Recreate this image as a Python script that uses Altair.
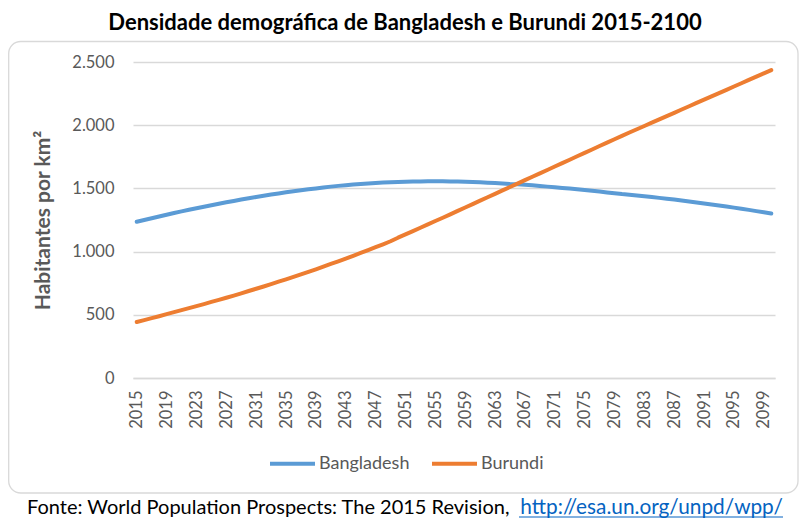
import altair as alt
import pandas as pd

years = list(range(2015, 2101))

bangladesh = [
    1236, 1250, 1264, 1278, 1292, 1305, 1318, 1331, 1343, 1355,
    1367, 1379, 1390, 1401, 1412, 1422, 1432, 1442, 1451, 1460,
    1469, 1477, 1485, 1493, 1500, 1507, 1514, 1520, 1525, 1530,
    1535, 1539, 1543, 1546, 1549, 1551, 1553, 1554, 1555, 1556,
    1556, 1556, 1555, 1554, 1552, 1550, 1548, 1545, 1542, 1538,
    1534, 1532, 1528, 1524, 1519, 1514, 1509, 1504, 1499, 1493,
    1487, 1481, 1475, 1468, 1462, 1455, 1450, 1444, 1438, 1432,
    1425, 1419, 1412, 1404, 1397, 1389, 1381, 1373, 1365, 1357,
    1348, 1339, 1330, 1320, 1311, 1301,
]

burundi = [
    443, 458, 474, 489, 505, 521, 537, 553, 569, 585,
    602, 618, 635, 652, 670, 688, 706, 724, 743, 762,
    781, 800, 820, 840, 860, 881, 902, 923, 945, 967,
    989, 1012, 1035, 1058, 1082, 1110, 1136, 1162, 1189, 1215,
    1242, 1268, 1295, 1322, 1349, 1376, 1403, 1430, 1457, 1484,
    1511, 1538, 1565, 1592, 1619, 1646, 1673, 1700, 1727, 1754,
    1781, 1808, 1835, 1862, 1889, 1915, 1942, 1968, 1994, 2020,
    2046, 2072, 2098, 2124, 2150, 2176, 2202, 2228, 2254, 2280,
    2306, 2332, 2358, 2384, 2410, 2436,
]

series_names = ["Bangladesh", "Burundi"]
series_colors = ["#5B9BD5", "#ED7D31"]
x_tick_years = list(range(2015, 2100, 4))
y_ticks = [0, 500, 1000, 1500, 2000, 2500]

title_text = "Densidade demográfica de Bangladesh e Burundi 2015-2100"
y_title = "Habitantes por km²"
source_text = ["Fonte: World Population Prospects: The 2015 Revision,"]
link_text = ["http://esa.un.org/unpd/wpp/"]

FONT = "Lato"
GRAY = "#595959"

df = pd.DataFrame({
    "Ano": years * 2,
    "Densidade": bangladesh + burundi,
    "Pais": [series_names[0]] * len(years) + [series_names[1]] * len(years),
})

W, H = 642, 316

border = alt.Chart(pd.DataFrame({"k": [0]})).mark_rect(
    cornerRadius=12, fill="white", fillOpacity=0, stroke="#d9d9d9", strokeWidth=1.3
).encode(
    x=alt.value(-124.3), x2=alt.value(665), y=alt.value(-20.5), y2=alt.value(431)
)

lines = alt.Chart(df).mark_line(
    strokeWidth=4, strokeCap="round", strokeJoin="round"
).encode(
    x=alt.X("Ano:O", axis=alt.Axis(
        values=x_tick_years, labelAngle=-90, ticks=False, grid=False,
        domainColor="#d9d9d9", domainWidth=1.3, labelFont=FONT, labelFontSize=16.5,
        labelColor=GRAY, labelPadding=12, title=None,
    )),
    y=alt.Y("Densidade:Q", scale=alt.Scale(domain=[0, 2500], nice=False), axis=alt.Axis(
        values=y_ticks, domain=False, ticks=False, gridColor="#d9d9d9", gridWidth=1.3,
        labelExpr="replace(format(datum.value, ','), ',', '.')",
        labelFont=FONT, labelFontSize=16.5, labelColor=GRAY, labelPadding=19,
        title=y_title, titleFont=FONT, titleFontSize=21, titleFontWeight="bold",
        titleColor=GRAY, titlePadding=18,
    )),
    color=alt.Color("Pais:N", scale=alt.Scale(domain=series_names, range=series_colors),
                    legend=alt.Legend(
                        title=None, orient="none", direction="horizontal",
                        legendX=135, legendY=377, symbolType="stroke",
                        symbolSize=2025, symbolStrokeWidth=4, labelFont=FONT,
                        labelFontSize=18, labelColor=GRAY, labelOffset=2,
                        columnPadding=14,
                    )),
)

source = alt.Chart(pd.DataFrame({"t": source_text})).mark_text(
    align="left", baseline="alphabetic", font=FONT, fontSize=20.0, color="black"
).encode(text="t:N", x=alt.value(-106), y=alt.value(452))

link = alt.Chart(pd.DataFrame({"t": link_text})).mark_text(
    align="right", baseline="alphabetic", font=FONT, fontSize=20.8, color="#0563C1"
).encode(text="t:N", x=alt.value(650), y=alt.value(452))

underline = alt.Chart(pd.DataFrame({"k": [0]})).mark_rule(
    color="#0563C1", strokeWidth=1
).encode(x=alt.value(386), x2=alt.value(650), y=alt.value(455))

chart = alt.layer(border, lines, source, link, underline).properties(
    width=W, height=H,
    title=alt.TitleParams(
        title_text, font=FONT, fontSize=22, fontWeight="bold", color="black",
        anchor="middle", frame="group", dx=-49, dy=23, baseline="alphabetic", offset=12,
    ),
    padding={"left": 125, "top": 54, "right": 28, "bottom": 140},
    autosize=alt.AutoSizeParams(type="none"),
    background="white",
).configure_view(stroke=None)

chart.save("out.html", embed_options={"renderer": "svg", "actions": False})
